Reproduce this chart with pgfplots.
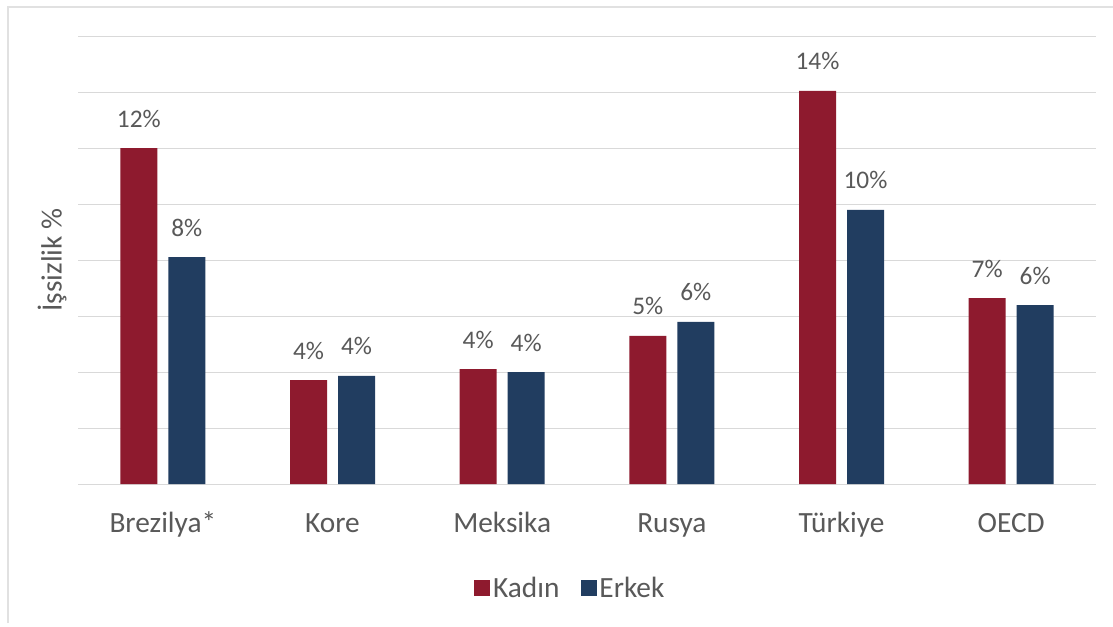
\documentclass[border=0pt]{standalone}
\usepackage{pgfplots}
\pgfplotsset{compat=1.18}
\usepackage{fontspec}
\setmainfont{Carlito}
\definecolor{kadin}{HTML}{8E1A2E}
\definecolor{erkek}{HTML}{213D60}
\definecolor{txt}{HTML}{595959}
\definecolor{gridc}{HTML}{D9D9D9}
\begin{document}
\begin{tikzpicture}[x=0.75pt,y=0.75pt]
\useasboundingbox (0,0) rectangle (1113,626);
\fill[white] (0,0) rectangle (1113,626);
\draw[gridc!80,line width=1.5pt] (8,3) -- (8,619) -- (1113,619);
\node[rotate=90,font=\fontsize{22}{26}\selectfont,text=txt] at (52,366) {İşsizlik \%};
\begin{axis}[
  at={(58.5pt,106.5pt)}, anchor=south west,
  scale only axis,
  width=763.5pt, height=336pt,
  ymin=0, ymax=16,
  ytick={0,2,...,16},
  yticklabels={},
  ymajorgrids,
  grid style={gridc, line width=0.75pt},
  major tick length=0pt,
  axis line style={draw=none},
  xmin=-0.5, xmax=5.5,
  xtick={0,1,2,3,4,5},
  xticklabels={Brezilya*,Kore,Meksika,Rusya,Türkiye,OECD},
  xticklabel style={font=\fontsize{22}{26}\selectfont, text=txt, anchor=base, yshift=-36pt},
  ybar=8.25pt,
  bar width=27.75pt,
  /pgf/number format/assume math mode=true,
  nodes near coords={\pgfmathprintnumber[fixed,precision=0]{\pgfplotspointmeta}\%},
  nodes near coords style={font=\fontsize{19}{23}\selectfont, text=txt, anchor=base, yshift=15.75pt},
  legend style={at={(0.484,-0.232)}, anchor=center, draw=none, fill=none,
    font=\fontsize{22}{26}\selectfont, text=txt, legend columns=2,
    /tikz/every even column/.append style={column sep=14pt}},
  legend image code/.code={\fill[#1] (0pt,-6pt) rectangle (12pt,6pt);},
]
\addplot[fill=kadin, draw=none] coordinates {(0,12.0) (1,3.71) (2,4.1) (3,5.29) (4,14.04) (5,6.64)};
\addplot[fill=erkek, draw=none] coordinates {(0,8.1) (1,3.86) (2,4.0) (3,5.79) (4,9.79) (5,6.39)};
\legend{Kadın,Erkek}
\end{axis}
\end{tikzpicture}
\end{document}
